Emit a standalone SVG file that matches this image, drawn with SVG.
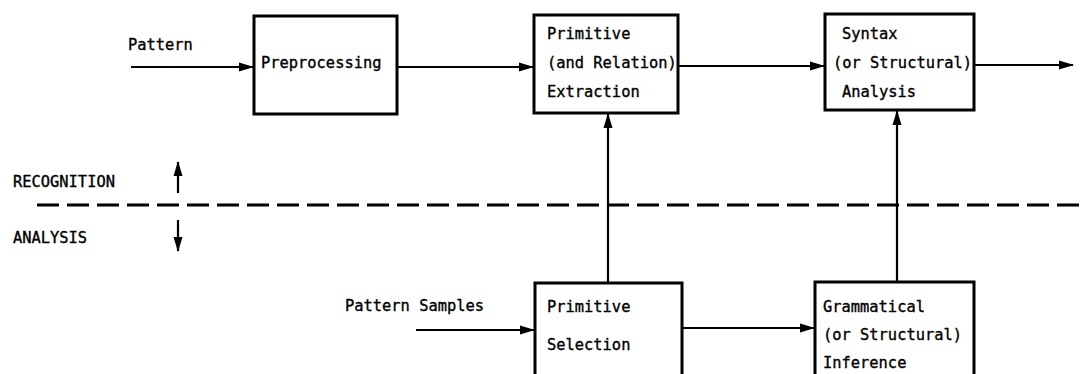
<svg xmlns="http://www.w3.org/2000/svg" width="1086" height="374" viewBox="0 0 1086 374">
<style>
.box{fill:#fff;stroke:#000;stroke-width:3}
.t{font-family:"DejaVu Sans Mono","Liberation Mono",monospace;font-size:15.4px;fill:#000;stroke:#000;stroke-width:0.35}
.c{fill:none;stroke:#000;stroke-width:2.2}
.d{fill:none;stroke:#000;stroke-width:3;stroke-dasharray:22 8}
</style>
<defs>
<marker id="ah" markerUnits="userSpaceOnUse" markerWidth="15" markerHeight="10" refX="14" refY="5" orient="auto">
<path d="M0,0.5 L15,5 L0,9.5 z" fill="#000"/>
</marker>
</defs>
<rect width="1086" height="374" fill="#fff"/>
<g id="connectors">
<line class="c" x1="131" y1="67" x2="253" y2="67" marker-end="url(#ah)"/>
<line class="c" x1="397" y1="67" x2="533" y2="67" marker-end="url(#ah)"/>
<line class="c" x1="678" y1="66" x2="824" y2="66" marker-end="url(#ah)"/>
<line class="c" x1="974" y1="65" x2="1073" y2="65" marker-end="url(#ah)"/>
<line class="c" x1="608" y1="283" x2="608" y2="114" marker-end="url(#ah)"/>
<line class="c" x1="897" y1="282" x2="897" y2="111" marker-end="url(#ah)"/>
<line class="c" x1="416" y1="330" x2="534" y2="330" marker-end="url(#ah)"/>
<line class="c" x1="682" y1="328" x2="814" y2="328" marker-end="url(#ah)"/>
<line class="d" x1="37" y1="205" x2="1086" y2="205"/>
<line class="c" x1="178" y1="193" x2="178" y2="162" marker-end="url(#ah)"/>
<line class="c" x1="178" y1="220" x2="178" y2="251" marker-end="url(#ah)"/>
</g>
<g id="labels">
<text class="t" x="128" y="50">Pattern</text>
<text class="t" x="345" y="311">Pattern Samples</text>
<text class="t" x="13" y="187">RECOGNITION</text>
<text class="t" x="13" y="243">ANALYSIS</text>
</g>
<g id="preprocessing">
<rect class="box" x="254" y="16" width="143" height="98"/>
<text class="t" x="261" y="68">Preprocessing</text>
</g>
<g id="extraction">
<rect class="box" x="534" y="15" width="144" height="98"/>
<text class="t" x="547" y="39">Primitive</text>
<text class="t" x="547" y="68">(and Relation)</text>
<text class="t" x="547" y="97">Extraction</text>
</g>
<g id="syntax">
<rect class="box" x="825" y="14" width="149" height="96"/>
<text class="t" x="842" y="39">Syntax</text>
<text class="t" x="833" y="68">(or Structural)</text>
<text class="t" x="842" y="97">Analysis</text>
</g>
<g id="selection">
<rect class="box" x="535" y="283" width="147" height="110"/>
<text class="t" x="547" y="312">Primitive</text>
<text class="t" x="547" y="350">Selection</text>
</g>
<g id="inference">
<rect class="box" x="815" y="282" width="159" height="110"/>
<text class="t" x="823" y="312">Grammatical</text>
<text class="t" x="823" y="340">(or Structural)</text>
<text class="t" x="823" y="368">Inference</text>
</g>
</svg>
